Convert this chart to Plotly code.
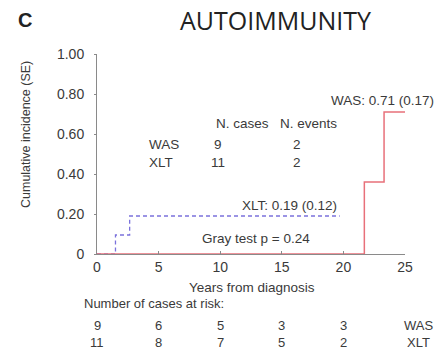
import plotly.graph_objects as go

# Data
xlt_x = [0, 1.5, 1.5, 2.65, 2.65, 19.7]
xlt_y = [0, 0, 0.095, 0.095, 0.19, 0.19]
was_x = [0, 21.7, 21.7, 23.3, 23.3, 25]
was_y = [0, 0, 0.36, 0.36, 0.71, 0.71]

x_ticks = [0, 5, 10, 15, 20, 25]
y_ticks = [0, 0.2, 0.4, 0.6, 0.8, 1.0]
y_ticklabels = ["0", "0.20", "0.40", "0.60", "0.80", "1.00"]

risk_times = [0, 5, 10, 15, 20]
risk_was = [9, 6, 5, 3, 3]
risk_xlt = [11, 8, 7, 5, 2]

groups = ["WAS", "XLT"]
n_cases = [9, 11]
n_events = [2, 2]

RED = "#e8707a"
BLUE = "#7b72dc"
TXT = "#3a3a3a"
FONT = "Liberation Sans, Arial, sans-serif"

L, R, T, B = 97, 37, 54, 106
PW = 442 - L - R
PH = 360 - T - B

def px(xp):
    return (xp - L) / PW

def py(yp):
    return (360 - B - yp) / PH

fig = go.Figure()
fig.add_trace(go.Scatter(x=xlt_x, y=xlt_y, mode="lines",
                         line=dict(color=BLUE, width=1.3, dash="4px,3px"),
                         showlegend=False, hoverinfo="skip"))
fig.add_trace(go.Scatter(x=was_x, y=was_y, mode="lines",
                         line=dict(color=RED, width=1.5),
                         showlegend=False, hoverinfo="skip"))

ann = []
def A(text, x, y, xref="x", yref="y", size=13.5, xanchor="center", family=FONT, color=TXT, **kw):
    ann.append(dict(text=text, x=x, y=y, xref=xref, yref=yref, showarrow=False,
                    font=dict(family=family, size=size, color=color),
                    xanchor=xanchor, yanchor="middle", **kw))

# In-plot annotations
A("WAS: 0.71 (0.17)", 23.2, 0.77)
A("N. cases", 11.85, 0.655)
A("N. events", 17.2, 0.655)
for i, g in enumerate(groups):
    yy = 0.55 - i * 0.09
    A(g, 4.05, yy, xanchor="left")
    A(str(n_cases[i]), 9.8, yy)
    A(str(n_events[i]), 16.2, yy)
A("XLT: 0.19 (0.12)", 15.6, 0.245)
A("Gray test p = 0.24", 12.9, 0.08)

# Titles
A("<b>C</b>", px(25), py(20), xref="paper", yref="paper", size=20, color="#222")
A("AUTOIMMUNITY", px(275), py(20), xref="paper", yref="paper", size=25,
  family="Open Sans, Noto Sans, sans-serif", color="#222")

A("Cumulative incidence (SE)", px(26), py(135), xref="paper", yref="paper",
  size=12.5, textangle=-90)
A("Years from diagnosis", px(252), py(287), xref="paper", yref="paper", size=13.5)
A("Number of cases at risk:", px(82), py(303), xref="paper", yref="paper",
  size=13, xanchor="left")
for t, w, xl in zip(risk_times, risk_was, risk_xlt):
    A(str(w), t, py(325), yref="paper", size=13)
    A(str(xl), t, py(342), yref="paper", size=13)
A("WAS", px(418), py(325), xref="paper", yref="paper", size=13)
A("XLT", px(418), py(342), xref="paper", yref="paper", size=13)

fig.update_layout(
    width=442, height=360,
    margin=dict(l=L, r=R, t=T, b=B),
    paper_bgcolor="white", plot_bgcolor="white",
    annotations=ann,
    font=dict(family=FONT, color=TXT),
)
fig.update_xaxes(range=[0, 25], tickvals=x_ticks, showgrid=False, zeroline=False,
                 showline=True, linecolor="#8a8a8a", linewidth=1,
                 ticks="inside", ticklen=3, tickcolor="#8a8a8a",
                 tickfont=dict(family=FONT, size=14, color=TXT))
fig.update_yaxes(range=[0, 1.0], tickvals=y_ticks, ticktext=y_ticklabels,
                 showgrid=False, zeroline=False,
                 showline=True, linecolor="#8a8a8a", linewidth=1,
                 ticks="outside", ticklen=2, tickcolor="#8a8a8a",
                 ticklabelstandoff=7,
                 tickfont=dict(family=FONT, size=14, color=TXT))

fig.write_html("out.html")
